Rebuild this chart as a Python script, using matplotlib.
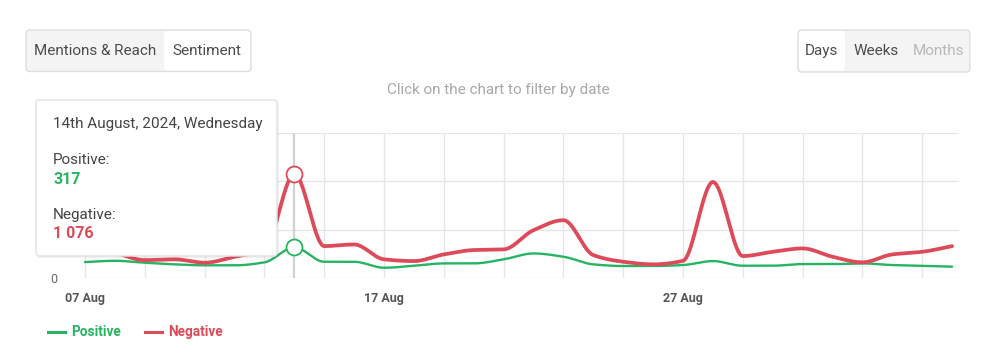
import numpy as np
import pandas as pd
import matplotlib
matplotlib.use("Agg")
import matplotlib.pyplot as plt
import matplotlib.dates as mdates
from matplotlib.patches import FancyBboxPatch

plt.rcParams['font.family'] = ['Roboto', 'DejaVu Sans']

# ---------------- data ----------------
dates = pd.date_range('2024-08-07', '2024-09-05', freq='D')
positive = [165, 178, 158, 141, 131, 131, 162, 317, 168, 168,
            106, 127, 151, 151, 193, 254, 220, 141, 124, 124,
            134, 175, 127, 127, 144, 144, 151, 134, 127, 117]
negative = [380, 265, 185, 193, 158, 220, 290, 1076, 330, 347,
            193, 175, 244, 289, 296, 495, 598, 237, 168, 141,
            178, 993, 227, 271, 306, 220, 162, 244, 271, 330]
xtick_dates = ['2024-08-07', '2024-08-17', '2024-08-27']
xtick_labels = ['07 Aug', '17 Aug', '27 Aug']
yticks = [0, 500, 1000, 1500]
ytick_labels = ['0', '', '', '']
series_names = ['Positive', 'Negative']
highlight_date = '2024-08-14'
tooltip_title = '14th August, 2024, Wednesday'
tooltip_pos = '317'
tooltip_neg = '1 076'

GREEN = '#27b462'
RED = '#dd4b5a'
GRID = '#e6e6e6'


def pchip(x, y, xs):
    x = np.asarray(x, float); y = np.asarray(y, float)
    h = np.diff(x); d = np.diff(y) / h
    n = len(x); m = np.zeros(n)
    for k in range(1, n - 1):
        if d[k - 1] * d[k] <= 0:
            m[k] = 0
        else:
            w1 = 2 * h[k] + h[k - 1]; w2 = h[k] + 2 * h[k - 1]
            m[k] = (w1 + w2) / (w1 / d[k - 1] + w2 / d[k])
    m[0] = d[0]; m[-1] = d[-1]
    idx = np.clip(np.searchsorted(x, xs) - 1, 0, n - 2)
    t = (xs - x[idx]) / h[idx]
    h00 = 2 * t**3 - 3 * t**2 + 1; h10 = t**3 - 2 * t**2 + t
    h01 = -2 * t**3 + 3 * t**2; h11 = t**3 - t**2
    return (h00 * y[idx] + h10 * h[idx] * m[idx] + h01 * y[idx + 1]
            + h11 * h[idx] * m[idx + 1])


W, H = 1000, 356
fig = plt.figure(figsize=(W / 100, H / 100), dpi=100)
fig.patch.set_facecolor('white')

# plot axes in pixel geometry
L, R, T, B = 77, 959, 133, 278
ax = fig.add_axes([L / W, 1 - B / H, (R - L) / W, (B - T) / H])
xd = mdates.date2num(dates)
ax.set_xlim(xd[0] - 0.27, xd[-1] + 0.23)
ax.set_ylim(0, 1500)
for s in ax.spines.values():
    s.set_visible(False)

# grid
for yv in yticks:
    ax.axhline(yv, color=GRID, lw=1.0, zorder=0)
grid_dates = dates[::2]
for gd in mdates.date2num(grid_dates):
    ax.axvline(gd, color=GRID, lw=1.0, zorder=0)
hx = mdates.date2num(pd.Timestamp(highlight_date))
ax.axvline(hx, color='#cfd3d6', lw=1.6, zorder=1)

xs = np.linspace(xd[0], xd[-1], 1500)
ax.plot(xs, pchip(xd, positive, xs), color=GREEN, lw=1.7, zorder=3,
        solid_capstyle='round')
ax.plot(xs, pchip(xd, negative, xs), color=RED, lw=2.7, zorder=4,
        solid_capstyle='round')
hi = list(dates).index(pd.Timestamp(highlight_date))
ax.plot([hx], [positive[hi]], 'o', ms=11.5, mfc='white', mec=GREEN, mew=1.3, zorder=5)
ax.plot([hx], [negative[hi]], 'o', ms=11.5, mfc='white', mec=RED, mew=1.3, zorder=5)

ax.set_xticks(mdates.date2num(pd.to_datetime(xtick_dates)))
ax.set_xticklabels(xtick_labels, fontsize=9, fontweight='bold', color='#555555')
ax.set_yticks(yticks)
ax.set_yticklabels(ytick_labels, fontsize=9, color='#666666')
ax.tick_params(axis='x', length=0, pad=10)
ax.tick_params(axis='y', length=0, pad=14)

# overlay in pixel coordinates
ov = fig.add_axes([0, 0, 1, 1], zorder=10)
ov.set_xlim(0, W); ov.set_ylim(H, 0)
ov.axis('off'); ov.patch.set_alpha(0)


def rbox(x0, y0, x1, y1, fc, ec, r=4, lw=1.0, z=1, alpha=None):
    p = FancyBboxPatch((x0, y0), x1 - x0, y1 - y0,
                       boxstyle=f'round,pad=0,rounding_size={r}',
                       fc=fc, ec=ec, lw=lw, zorder=z, alpha=alpha)
    ov.add_patch(p)


FS = 11
BTN = '#4d4d4d'
# buttons left
rbox(26, 30, 251, 71.5, '#f4f4f4', '#dedede')
rbox(164, 31, 250, 70.5, 'white', 'none', z=2)
ov.text(95, 51, 'Mentions & Reach', ha='center', va='center', fontsize=FS,
        color=BTN, zorder=3)
ov.text(207, 51, 'Sentiment', ha='center', va='center', fontsize=FS,
        color=BTN, zorder=3)
# buttons right
rbox(798, 30, 970, 72, '#f4f4f4', '#dedede')
rbox(799, 31, 845, 71, 'white', 'none', z=2)
ov.text(821.5, 51, 'Days', ha='center', va='center', fontsize=FS,
        color=BTN, zorder=3)
ov.text(876, 51, 'Weeks', ha='center', va='center', fontsize=FS,
        color=BTN, zorder=3)
ov.text(938, 51, 'Months', ha='center', va='center', fontsize=FS,
        color='#b8b8b8', zorder=3)

ov.text(498, 90, 'Click on the chart to filter by date', ha='center', va='center',
        fontsize=FS, color='#a8a8a8')

# tooltip
rbox(37, 102, 279, 258, '#000000', 'none', r=3, z=4, alpha=0.06)
rbox(36, 100, 277, 256, 'white', '#e2e2e2', r=3, z=5)
ov.text(53, 124, tooltip_title, ha='left', va='center', fontsize=FS,
        color='#444444', zorder=6)
ov.text(53, 160, 'Positive:', ha='left', va='center', fontsize=FS,
        color='#444444', zorder=6)
ov.text(53, 179, tooltip_pos, ha='left', va='center', fontsize=11.5,
        fontweight='bold', color=GREEN, zorder=6)
ov.text(53, 215, 'Negative:', ha='left', va='center', fontsize=FS,
        color='#444444', zorder=6)
ov.text(53, 234, tooltip_neg, ha='left', va='center', fontsize=11.5,
        fontweight='bold', color=RED, zorder=6)

# legend
ov.plot([48, 65], [332, 332], color=GREEN, lw=2.2)
ov.text(71, 332, series_names[0], ha='left', va='center', fontsize=9.8,
        fontweight='bold', color=GREEN)
ov.plot([145, 162], [332, 332], color=RED, lw=2.2)
ov.text(168, 332, series_names[1], ha='left', va='center', fontsize=9.8,
        fontweight='bold', color=RED)

fig.savefig('out.png', dpi=100, facecolor='white')
